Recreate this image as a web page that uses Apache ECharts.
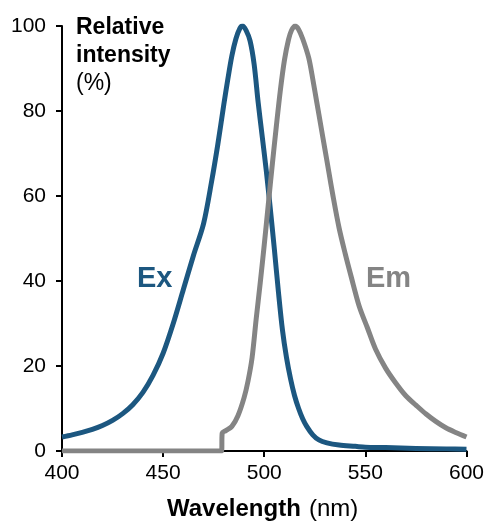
<!DOCTYPE html>
<html>
<head>
<meta charset="utf-8">
<script src="https://cdn.jsdelivr.net/npm/echarts@6/dist/echarts.min.js"></script>
<style>html,body{margin:0;padding:0;background:#fff}#c{width:487px;height:521px}</style>
</head>
<body>
<div id="c"></div>
<script>
const xTicks = [400, 450, 500, 550, 600];
const yTicks = [0, 20, 40, 60, 80, 100];

const exWavelength = [400,405,410,415,420,425,430,435,440,445,450,455,460,465,470,474,477,480,482,484,486,488,489.3,491,493,495,497,499,501,503,505,507,509,511,513,515,517,519,521,524,527,531,537,545,550,560,575,590,600];
const exIntensity  = [3.3,3.8,4.4,5.1,6.0,7.2,8.8,10.9,13.8,17.8,23,30,38,46,53.5,63.5,72,81.5,87.5,93,97,99.5,100,99,96.5,91,82,74,66,57,47.5,37.5,28.5,22,17,13,10,7.6,5.8,3.8,2.6,1.9,1.4,1.1,0.9,0.8,0.6,0.5,0.4];

const emWavelength = [400,420,440,460,478.9,479.2,481,484,487,490,492,494,496,498,500,502,504,506,508,510,512,513.5,515.3,517,519,522,524,526,528,530,532,534,537,540,543,547,551,555,560,565,570,575,580,585,590,595,600];
const emIntensity  = [0,0,0,0,0,4.2,4.8,5.8,8.3,12.5,16.5,22,31,39.5,48.5,58,67.5,76.5,85,92,96.8,99,100,99.2,97,92.5,87.5,82,76.5,71,65.5,60,52.5,46.5,41,34,29,24,19.5,16,13,10.8,8.7,6.9,5.4,4.3,3.3];

const exData = exWavelength.map((x, i) => [x, exIntensity[i]]);
const emData = emWavelength.map((x, i) => [x, emIntensity[i]]);

const BLUE = '#1c5780';
const GRAY = '#848484';
const FONT = '"Liberation Sans", Arial, sans-serif';

const chart = echarts.init(document.getElementById('c'), null, {renderer: 'canvas'});
chart.setOption({
  animation: false,
  backgroundColor: '#fff',
  grid: {left: 62, right: 18, top: 26, bottom: 70, containLabel: false},
  xAxis: {
    type: 'value', min: xTicks[0], max: xTicks[xTicks.length - 1], interval: 50,
    axisLine: {show: true, onZero: false, lineStyle: {color: '#000', width: 2}},
    axisTick: {show: true, length: 6, lineStyle: {color: '#000', width: 2}},
    axisLabel: {color: '#000', fontSize: 21, fontFamily: FONT, margin: 12,
      formatter: v => xTicks.includes(v) ? String(v) : ''},
    splitLine: {show: false}
  },
  yAxis: {
    type: 'value', min: yTicks[0], max: yTicks[yTicks.length - 1], interval: 20,
    axisLine: {show: true, lineStyle: {color: '#000', width: 2}},
    axisTick: {show: true, length: 6, lineStyle: {color: '#000', width: 2}},
    axisLabel: {color: '#000', fontSize: 21, fontFamily: FONT, margin: 16,
      formatter: v => yTicks.includes(v) ? String(v) : ''},
    splitLine: {show: false}
  },
  series: [
    {type: 'line', data: exData, showSymbol: false, smooth: 0.3,
     lineStyle: {color: BLUE, width: 5, join: 'round'}, z: 3},
    {type: 'line', data: emData, showSymbol: false, smooth: 0.3,
     lineStyle: {color: GRAY, width: 5, join: 'round'}, z: 4}
  ],
  graphic: [
    {type: 'text', style: {x: 76, y: 16, text: 'Relative', font: 'bold 23px ' + FONT, fill: '#000', textVerticalAlign: 'top'}},
    {type: 'text', style: {x: 76, y: 44, text: 'intensity', font: 'bold 23px ' + FONT, fill: '#000', textVerticalAlign: 'top'}},
    {type: 'text', style: {x: 76, y: 72, text: '(%)', font: '23px ' + FONT, fill: '#000', textVerticalAlign: 'top'}},
    {type: 'text', style: {x: 137, y: 264, text: 'Ex', font: 'bold 29px ' + FONT, fill: BLUE, textVerticalAlign: 'top'}},
    {type: 'text', style: {x: 366, y: 264, text: 'Em', font: 'bold 29px ' + FONT, fill: GRAY, textVerticalAlign: 'top'}},
    {type: 'text', style: {x: 167, y: 497, text: 'Wavelength', font: 'bold 24px ' + FONT, fill: '#000', textVerticalAlign: 'top'}},
    {type: 'text', style: {x: 309, y: 497, text: '(nm)', font: '24px ' + FONT, fill: '#000', textVerticalAlign: 'top'}}
  ]
});
</script>
</body>
</html>
